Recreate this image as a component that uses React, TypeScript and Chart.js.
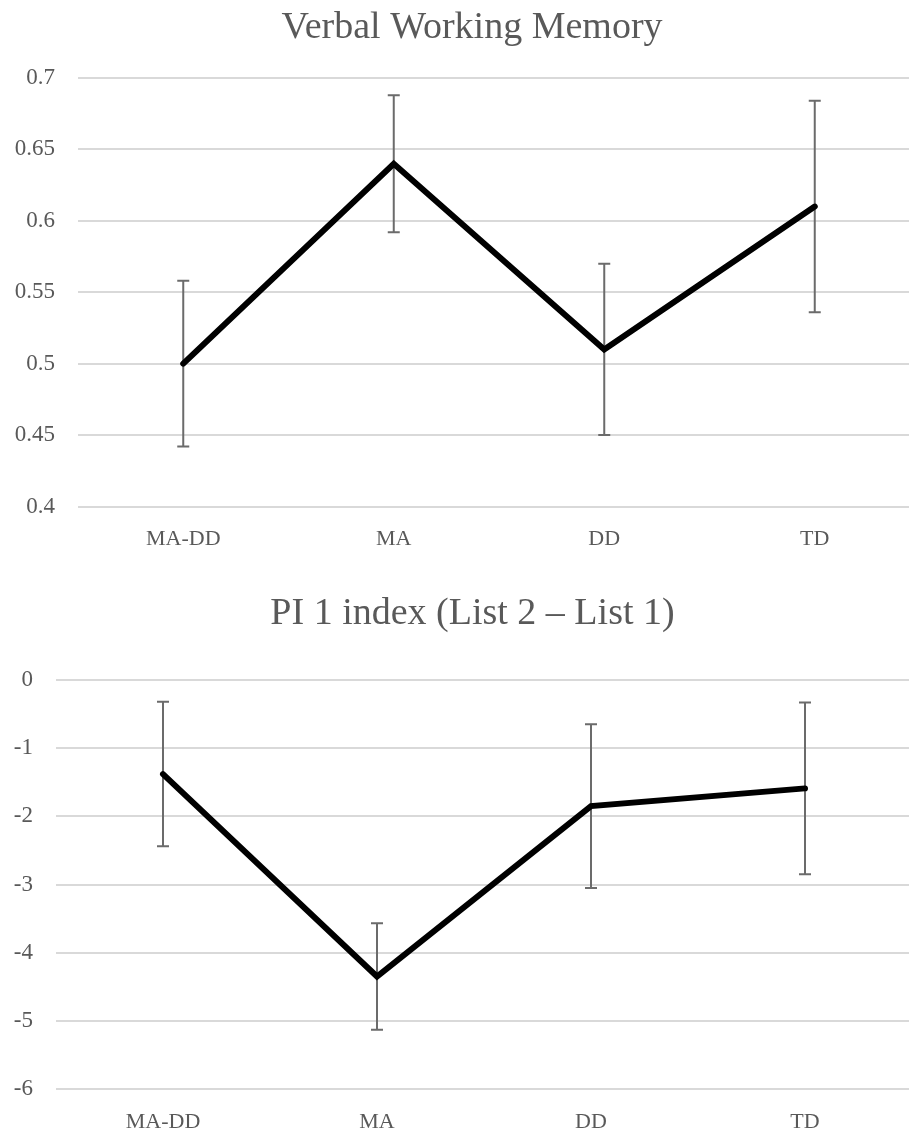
import React, { useEffect, useRef } from "react";
import { Chart, registerables } from "chart.js";

Chart.register(...registerables);

const categories = ["MA-DD", "MA", "DD", "TD"];

const vwmTitle = "Verbal Working Memory";
const vwmMeans = [0.5, 0.64, 0.51, 0.61];
const vwmErrors = [0.058, 0.048, 0.06, 0.074];
const vwmMin = 0.4;
const vwmMax = 0.7;
const vwmStep = 0.05;

const piTitle = "PI 1 index (List 2 \u2013 List 1)";
const piMeans = [-1.38, -4.35, -1.85, -1.59];
const piErrors = [1.06, 0.78, 1.2, 1.26];
const piMin = -6;
const piMax = 0;
const piStep = 1;

const FONT = "'Liberation Serif', 'Times New Roman', serif";
const TEXT = "#595959";

type Props = {
  title: string;
  means: number[];
  errors: number[];
  min: number;
  max: number;
  step: number;
  width: number;
  height: number;
  padTop: number;
  yWidth: number;
  xHeight: number;
  titleX: number;
  titleBaseline: number;
  top: number;
};

function makeErrorPlugin(errors: number[]) {
  return {
    id: "errorBars",
    beforeDatasetsDraw(chart: any) {
      const meta = chart.getDatasetMeta(0);
      const ys = chart.scales.y;
      const ctx = chart.ctx;
      const vals = chart.data.datasets[0].data as number[];
      ctx.save();
      ctx.strokeStyle = "#6b6b6b";
      ctx.lineWidth = 2;
      meta.data.forEach((pt: any, i: number) => {
        const x = pt.x;
        const t = ys.getPixelForValue(vals[i] + errors[i]);
        const b = ys.getPixelForValue(vals[i] - errors[i]);
        ctx.beginPath();
        ctx.moveTo(x, t);
        ctx.lineTo(x, b);
        ctx.moveTo(x - 6, t);
        ctx.lineTo(x + 6, t);
        ctx.moveTo(x - 6, b);
        ctx.lineTo(x + 6, b);
        ctx.stroke();
      });
      ctx.restore();
    },
  };
}

function makeTitlePlugin(text: string, x: number, baseline: number) {
  return {
    id: "centeredTitle",
    afterDraw(chart: any) {
      const ctx = chart.ctx;
      ctx.save();
      ctx.font = `normal 38px ${FONT}`;
      ctx.fillStyle = TEXT;
      ctx.textAlign = "center";
      ctx.textBaseline = "alphabetic";
      ctx.fillText(text, x, baseline);
      ctx.restore();
    },
  };
}

function LineChart(p: Props) {
  const ref = useRef<HTMLCanvasElement | null>(null);
  useEffect(() => {
    if (!ref.current) return;
    const chart = new Chart(ref.current, {
      type: "line",
      data: {
        labels: categories,
        datasets: [
          {
            data: p.means,
            borderColor: "#000000",
            borderWidth: 6,
            pointRadius: 0,
            borderCapStyle: "round",
            borderJoinStyle: "miter",
            tension: 0,
            fill: false,
          },
        ],
      },
      options: {
        responsive: false,
        animation: false,
        layout: { padding: { left: 0, right: 0, top: p.padTop, bottom: 0 } },
        plugins: {
          legend: { display: false },
          tooltip: { enabled: false },
          title: { display: false },
        },
        scales: {
          x: {
            type: "category",
            offset: true,
            grid: { display: false, drawTicks: false },
            border: { display: false },
            ticks: { color: TEXT, padding: 20, font: { family: FONT, size: 22, lineHeight: 1.2 } },
            afterFit: (s: any) => {
              s.height = p.xHeight;
            },
          },
          y: {
            min: p.min,
            max: p.max,
            grid: { color: "#d9d9d9", lineWidth: 2, drawTicks: false },
            border: { display: false },
            ticks: {
              stepSize: p.step,
              color: TEXT,
              padding: 23,
              font: { family: FONT, size: 23, lineHeight: 1.2 },
              callback: (v: any) => String(Number(Number(v).toFixed(2))),
            },
            afterFit: (s: any) => {
              s.width = p.yWidth;
            },
          },
        },
      },
      plugins: [makeErrorPlugin(p.errors), makeTitlePlugin(p.title, p.titleX, p.titleBaseline)],
    } as any);
    return () => chart.destroy();
  }, []);
  return (
    <canvas
      ref={ref}
      width={p.width}
      height={p.height}
      style={{ position: "absolute", left: 0, top: p.top, width: p.width, height: p.height }}
    />
  );
}

export default function App() {
  return (
    <div
      style={{
        position: "absolute",
        left: 0,
        top: 0,
        width: 909,
        height: 1138,
        overflow: "hidden",
        background: "#ffffff",
      }}
    >
      <LineChart
        title={vwmTitle}
        means={vwmMeans}
        errors={vwmErrors}
        min={vwmMin}
        max={vwmMax}
        step={vwmStep}
        width={920}
        height={560}
        padTop={78}
        yWidth={78}
        xHeight={53.5}
        titleX={472}
        titleBaseline={38}
        top={0}
      />
      <LineChart
        title={piTitle}
        means={piMeans}
        errors={piErrors}
        min={piMin}
        max={piMax}
        step={piStep}
        width={912}
        height={578}
        padTop={120}
        yWidth={56}
        xHeight={49}
        titleX={472.5}
        titleBaseline={64}
        top={560}
      />
    </div>
  );
}
